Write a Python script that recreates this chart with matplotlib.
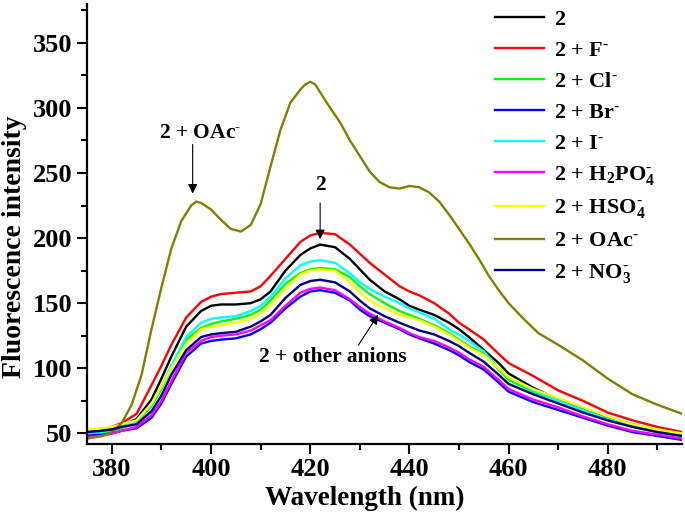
import matplotlib
matplotlib.use("Agg")
import matplotlib.pyplot as plt
from matplotlib.ticker import MultipleLocator

plt.rcParams['font.family'] = 'Liberation Serif'
plt.rcParams['font.weight'] = 'bold'
plt.rcParams['mathtext.fontset'] = 'custom'
plt.rcParams['mathtext.rm'] = 'Liberation Serif:bold'
plt.rcParams['mathtext.bf'] = 'Liberation Serif:bold'
plt.rcParams['mathtext.default'] = 'bf'

wl = [375, 378, 380, 382, 385, 388, 390, 392, 395, 398, 400, 402, 405, 408,
      410, 412, 415, 418, 420, 422, 425, 428, 430, 432, 435, 438, 440, 442,
      445, 448, 450, 452, 455, 458, 460, 465, 470, 475, 480, 485, 490, 495]

s_2 = [51, 52, 54, 56, 61, 76, 92, 109, 132, 144, 148, 149, 149, 150,
       153, 159, 175, 187, 192, 195, 193, 184, 176, 168, 159, 153, 148, 145,
       141, 135, 130, 124, 114, 104, 96, 85, 76, 69, 62, 57, 52, 49]
s_f = [50, 52, 55, 58, 65, 87, 102, 118, 139, 151, 155, 157, 158, 159,
       163, 171, 184, 197, 202, 204, 203, 195, 188, 181, 172, 163, 159, 156,
       150, 142, 135, 130, 122, 111, 104, 94, 83, 75, 66, 60, 55, 51]
s_cl = [49, 50, 52, 54, 58, 71, 84, 100, 122, 131, 134, 136, 138, 141,
        145, 152, 165, 173, 176, 177, 176, 170, 163, 157, 150, 144, 141, 138,
        133, 127, 122, 117, 111, 99, 91, 82, 75, 67, 60, 55, 51, 48]
s_br = [49, 49, 50, 52, 54, 62, 73, 88, 109, 119, 121, 122, 123, 126,
        130, 135, 146, 155, 159, 160, 158, 152, 145, 140, 135, 130, 126, 123,
        119, 114, 110, 105, 99, 89, 82, 74, 68, 62, 56, 51, 48, 45]
s_i = [50, 51, 53, 55, 59, 72, 86, 102, 124, 135, 138, 139, 140, 144,
       148, 155, 169, 179, 182, 183, 181, 173, 166, 161, 155, 150, 146, 143,
       138, 130, 126, 121, 113, 100, 93, 83, 75, 68, 61, 56, 52, 49]
s_h2po4 = [47, 48, 50, 52, 55, 64, 75, 90, 112, 121, 124, 125, 126, 129,
           133, 137, 148, 158, 161, 162, 160, 153, 147, 142, 136, 131, 127, 124,
           121, 116, 112, 107, 101, 91, 84, 76, 70, 63, 57, 52, 49, 46]
s_hso4 = [53, 54, 55, 57, 60, 73, 86, 100, 119, 130, 132, 133, 135, 138,
          142, 149, 161, 172, 175, 176, 175, 166, 158, 152, 146, 141, 139, 137,
          132, 126, 121, 116, 110, 100, 93, 84, 77, 70, 63, 57, 53, 50]
s_no3 = [51, 52, 53, 55, 57, 67, 79, 95, 114, 124, 126, 127, 128, 132,
         136, 141, 154, 164, 167, 168, 166, 159, 152, 146, 140, 135, 132, 129,
         126, 121, 117, 112, 105, 95, 88, 80, 73, 66, 60, 55, 51, 48]

# OAc- trace has sharper peaks, read on a finer grid
wl_oac = [375, 378, 380, 382, 384, 386, 388, 390, 392, 394, 396, 397, 398, 400,
          402, 404, 406, 408, 410, 412, 414, 416, 418, 419, 420, 421, 422, 424,
          426, 428, 430, 432, 434, 436, 438, 440, 442, 444, 446, 448, 450, 452,
          454, 456, 458, 460, 463, 466, 470, 475, 480, 485, 490, 495]
s_oac = [46, 48, 51, 58, 72, 95, 130, 162, 192, 213, 225, 228, 227, 222,
         214, 207, 205, 210, 226, 255, 283, 304, 314, 318, 320, 318, 312, 300,
         289, 275, 263, 251, 243, 239, 238, 240, 239, 235, 228, 218, 207, 196,
         184, 171, 160, 150, 138, 127, 118, 106, 92, 80, 72, 65]

m = '$^{\u2010}$'
labels = ['2', '2 + F' + m, '2 + Cl' + m, '2 + Br' + m, '2 + I' + m,
          '2 + H$_2$PO$_4^{\u2010}$', '2 + HSO$_4^{\u2010}$', '2 + OAc' + m,
          '2 + NO$_3^{\u2010}$']
colors = ['black', '#ff0000', '#00ff00', '#0000ff', '#00ffff',
          '#ff00ff', '#ffff00', '#808000', '#000080']
xs = [wl, wl, wl, wl, wl, wl, wl, wl_oac, wl]
series = [s_2, s_f, s_cl, s_br, s_i, s_h2po4, s_hso4, s_oac, s_no3]

fig = plt.figure(figsize=(6.85, 5.24), dpi=100)
ax = fig.add_axes([0.127, 0.153, 0.869, 0.84])

for x, ys, c, lab in zip(xs, series, colors, labels):
    ax.plot(x, ys, color=c, lw=1.7, label=lab)

ax.set_xlim(375, 495)
ax.set_ylim(42, 380)
ax.xaxis.set_major_locator(MultipleLocator(20))
ax.xaxis.set_minor_locator(MultipleLocator(10))
ax.yaxis.set_major_locator(MultipleLocator(50))
ax.yaxis.set_minor_locator(MultipleLocator(25))
ax.tick_params(which='major', direction='out', length=7, width=1.5, labelsize=19)
ax.tick_params(which='minor', direction='out', length=4, width=1.5)
for side in ['top', 'right']:
    ax.spines[side].set_visible(False)
for side in ['left', 'bottom']:
    ax.spines[side].set_linewidth(1.6)

ax.set_xlabel('Wavelength (nm)', fontsize=19.5, fontweight='bold')
ax.xaxis.set_label_coords(0.466, -0.095)
ax.set_ylabel('Fluorescence intensity', fontsize=20, fontweight='bold')
ax.yaxis.set_label_coords(-0.101, 0.448)

leg = ax.legend(loc='upper left', bbox_to_anchor=(0.686, 0.988), frameon=False,
                fontsize=16, handlelength=2.2, handletextpad=0.45,
                labelspacing=0.47, borderpad=0, borderaxespad=0)

arrow = dict(arrowstyle='-|>', color='black', lw=0.8, mutation_scale=14)
ax.text(397.8, 281, '2 + OAc' + m, fontsize=15.5, ha='center', va='center')
ax.annotate('', xy=(396.3, 232), xytext=(396.3, 274), arrowprops=arrow)
ax.text(422, 241, '2', fontsize=15.5, ha='center', va='center')
ax.annotate('', xy=(422, 197), xytext=(422, 229), arrowprops=arrow)
ax.text(424.6, 109, '2 + other anions', fontsize=15.5, ha='center', va='center')
ax.annotate('', xy=(434, 143), xytext=(429.4, 116), arrowprops=arrow)

fig.savefig('out.png', dpi=100)
